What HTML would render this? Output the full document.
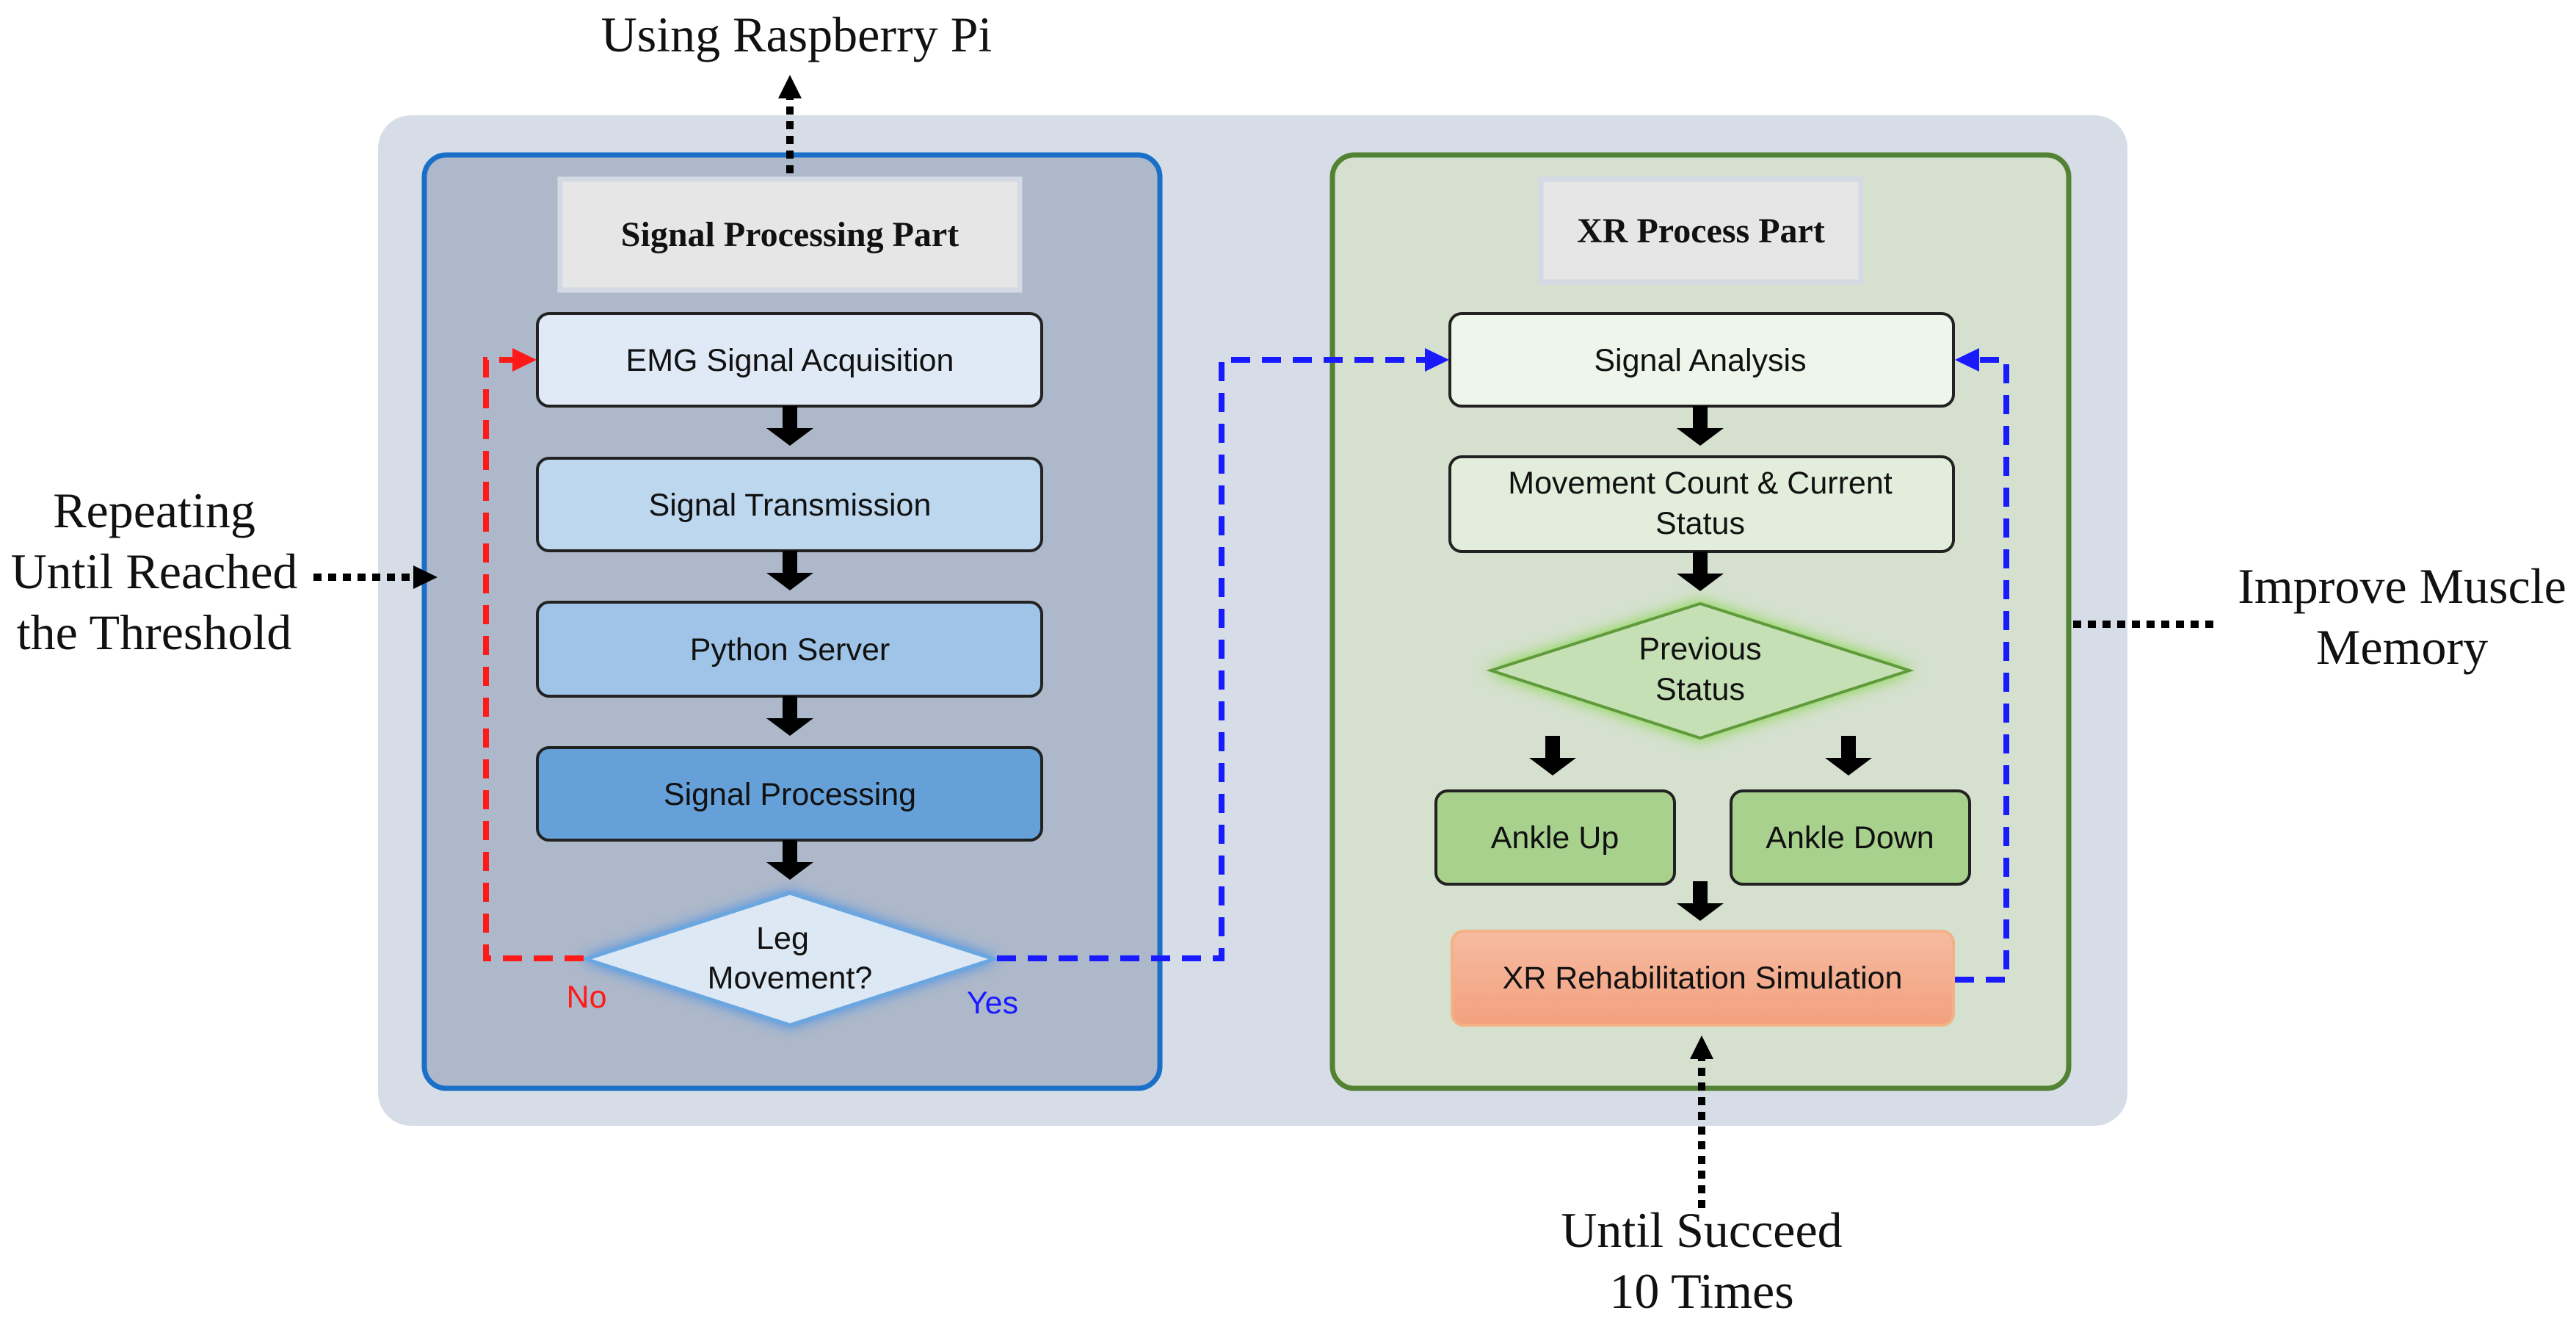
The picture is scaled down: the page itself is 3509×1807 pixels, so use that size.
<!DOCTYPE html>
<html><head><meta charset="utf-8"><style>
html,body{margin:0;padding:0;background:#fff;}
svg{display:block;}
.s{font-family:"Liberation Sans",sans-serif;font-size:43px;fill:#111;text-anchor:middle;}
.t{font-family:"Liberation Serif",serif;font-size:68px;fill:#111;text-anchor:middle;}
.b{font-family:"Liberation Serif",serif;font-size:48px;font-weight:bold;fill:#111;text-anchor:middle;}
</style></head><body>
<svg width="3509" height="1807" viewBox="0 0 3509 1807" xmlns="http://www.w3.org/2000/svg">
<defs>
<filter id="gb" x="-20%" y="-40%" width="140%" height="180%"><feDropShadow dx="0" dy="0" stdDeviation="9" flood-color="#4a90e2" flood-opacity="1"/></filter>
<filter id="gg" x="-20%" y="-40%" width="140%" height="180%"><feDropShadow dx="0" dy="0" stdDeviation="10" flood-color="#7cd63a" flood-opacity="1"/></filter>
<linearGradient id="og" x1="0" y1="0" x2="0" y2="1"><stop offset="0" stop-color="#f6bba1"/><stop offset="1" stop-color="#f3a07f"/></linearGradient>
</defs>

<rect x="515" y="157" width="2383" height="1376" rx="45" fill="#d6dde7"/>

<rect x="578" y="211" width="1002" height="1271" rx="30" fill="#adb8ca" stroke="#1a70c8" stroke-width="7"/>
<rect x="763" y="244" width="626" height="151" fill="#e6e6e6" stroke="#d3dae4" stroke-width="7"/>
<text class="b" x="1076" y="335">Signal Processing Part</text>

<rect x="732" y="427" width="687" height="126" rx="16" fill="#dfeaf6" stroke="#222" stroke-width="4"/>
<text class="s" x="1076" y="505">EMG Signal Acquisition</text>
<rect x="732" y="624" width="687" height="126" rx="16" fill="#bdd7ee" stroke="#222" stroke-width="4"/>
<text class="s" x="1076" y="702">Signal Transmission</text>
<rect x="732" y="820" width="687" height="128" rx="16" fill="#9fc4e7" stroke="#222" stroke-width="4"/>
<text class="s" x="1076" y="899">Python Server</text>
<rect x="732" y="1018" width="687" height="126" rx="16" fill="#65a1d8" stroke="#222" stroke-width="4"/>
<text class="s" x="1076" y="1096">Signal Processing</text>

<polygon points="1076,1216 1354,1306 1076,1396 798,1306" fill="#dde8f5" stroke="#6aa6e0" stroke-width="5" filter="url(#gb)"/>
<text class="s" x="1066" y="1292">Leg</text>
<text class="s" x="1076" y="1346">Movement?</text>
<text class="s" x="799" y="1372" style="fill:#ff1a1a">No</text>
<text class="s" x="1352" y="1380" style="fill:#1a1aff">Yes</text>

<g fill="#000">
<path d="M1066,553 h20 v30 h22 l-32,24 l-32,-24 h22z"/>
<path d="M1066,750 h20 v30 h22 l-32,24 l-32,-24 h22z"/>
<path d="M1066,948 h20 v30 h22 l-32,24 l-32,-24 h22z"/>
<path d="M1066,1144 h20 v30 h22 l-32,24 l-32,-24 h22z"/>
</g>

<path d="M795,1305 H662 V490 H700" fill="none" stroke="#ff1a1a" stroke-width="8" stroke-dasharray="26,16"/>
<path d="M698,474 L731,490 L698,506 z" fill="#ff1a1a"/>

<rect x="1815" y="211" width="1003" height="1271" rx="30" fill="#d5e0cf" stroke="#548235" stroke-width="7"/>
<rect x="2099" y="244" width="436" height="140" fill="#e6e6e6" stroke="#d3dae4" stroke-width="7"/>
<text class="b" x="2317" y="330">XR Process Part</text>

<path d="M1358,1305 H1664 V490 H1945" fill="none" stroke="#1a1aff" stroke-width="8" stroke-dasharray="26,16"/>
<path d="M1941,474 L1974,490 L1941,506 z" fill="#1a1aff"/>

<rect x="1975" y="427" width="686" height="126" rx="16" fill="#eef5ea" stroke="#222" stroke-width="4"/>
<text class="s" x="2316" y="505">Signal Analysis</text>
<rect x="1975" y="622" width="686" height="129" rx="16" fill="#e2eedb" stroke="#222" stroke-width="4"/>
<text class="s" x="2316" y="672">Movement Count &amp; Current</text>
<text class="s" x="2316" y="727">Status</text>

<polygon points="2316,822 2601,913 2316,1005 2031,913" fill="#c6e0b5" stroke="#5f9a3a" stroke-width="4" filter="url(#gg)"/>
<text class="s" x="2316" y="898">Previous</text>
<text class="s" x="2316" y="953">Status</text>

<rect x="1956" y="1077" width="325" height="127" rx="16" fill="#a9d18e" stroke="#222" stroke-width="4"/>
<text class="s" x="2118" y="1155">Ankle Up</text>
<rect x="2358" y="1077" width="325" height="127" rx="16" fill="#a9d18e" stroke="#222" stroke-width="4"/>
<text class="s" x="2520" y="1155">Ankle Down</text>

<rect x="1978" y="1268" width="683" height="128" rx="16" fill="url(#og)" stroke="#f4b183" stroke-width="4"/>
<text class="s" x="2319" y="1346">XR Rehabilitation Simulation</text>

<g fill="#000">
<path d="M2306,553 h20 v30 h22 l-32,24 l-32,-24 h22z"/>
<path d="M2306,751 h20 v30 h22 l-32,24 l-32,-24 h22z"/>
<path d="M2105,1002 h20 v30 h22 l-32,24 l-32,-24 h22z"/>
<path d="M2508,1002 h20 v30 h22 l-32,24 l-32,-24 h22z"/>
<path d="M2306,1200 h20 v30 h22 l-32,24 l-32,-24 h22z"/>
</g>

<path d="M2663,1334 H2733 V490 H2695" fill="none" stroke="#1a1aff" stroke-width="8" stroke-dasharray="26,16"/>
<path d="M2696,474 L2663,490 L2696,506 z" fill="#1a1aff"/>

<g stroke="#000" stroke-width="10" stroke-dasharray="11,9" fill="none">
<path d="M1076,236 V130"/>
<path d="M427,786 H570"/>
<path d="M2824,850 H3022"/>
<path d="M2318,1645 V1440"/>
</g>
<g fill="#000">
<path d="M1060,134 L1076,102 L1092,134 z"/>
<path d="M563,770 L596,786 L563,802 z"/>
<path d="M2302,1442 L2318,1410 L2334,1442 z"/>
</g>

<text class="t" x="1085" y="70">Using Raspberry Pi</text>
<text class="t" x="210" y="718">Repeating</text>
<text class="t" x="210" y="801">Until Reached</text>
<text class="t" x="210" y="884">the Threshold</text>
<text class="t" x="3272" y="821">Improve Muscle</text>
<text class="t" x="3272" y="904">Memory</text>
<text class="t" x="2318" y="1698">Until Succeed</text>
<text class="t" x="2318" y="1781">10 Times</text>
</svg>
</body></html>
